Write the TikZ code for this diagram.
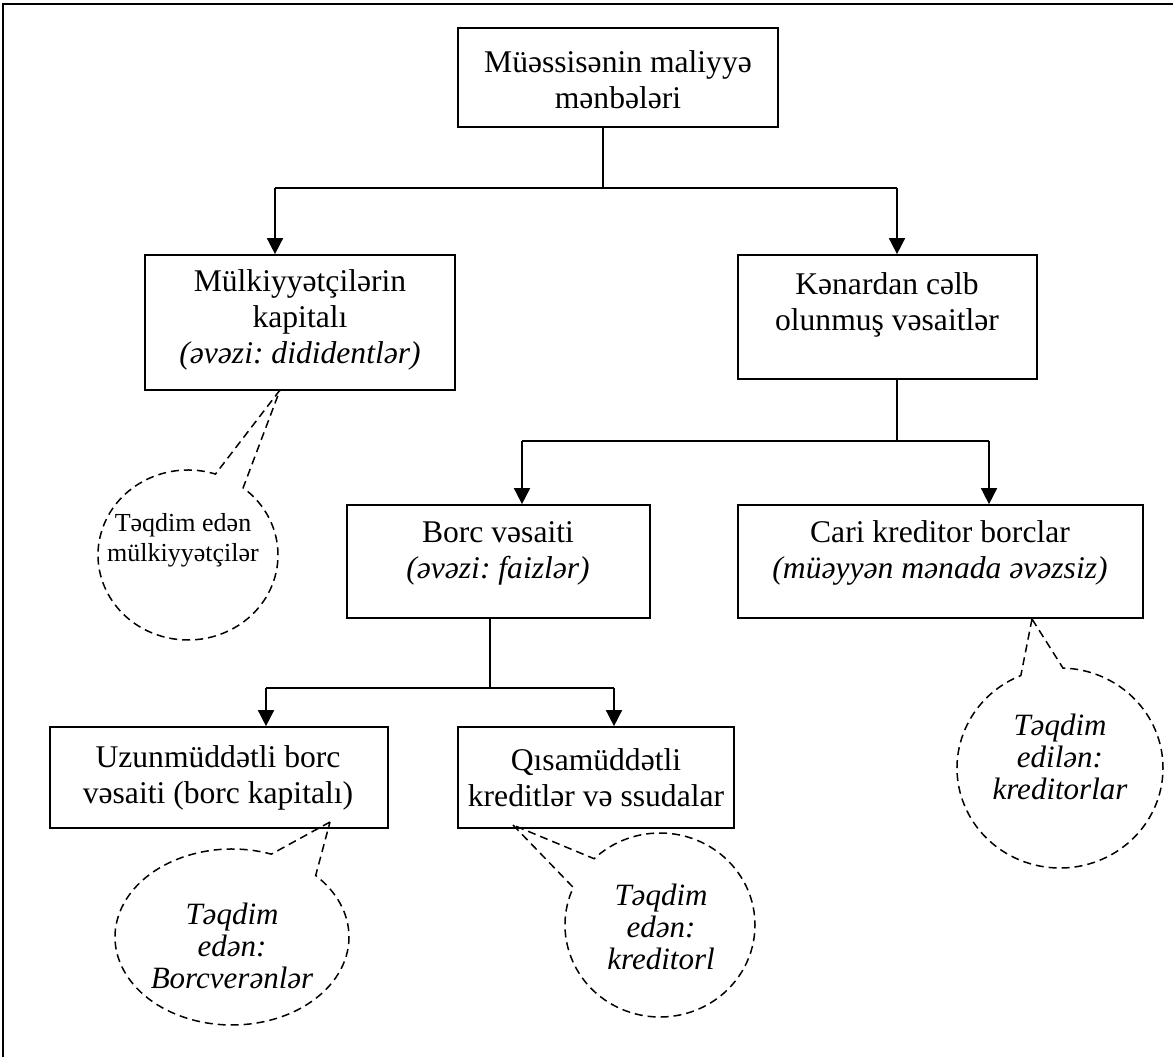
\documentclass[tikz,border=0pt]{standalone}
\usepackage{fontspec}
\setmainfont{Liberation Serif}
\frenchspacing
\usetikzlibrary{shapes.callouts,arrows.meta}

\begin{document}
\begin{tikzpicture}[x=1pt,y=-1pt,
  box/.style={draw,line width=1.7pt,inner sep=0pt},
  txt/.style={align=center,inner sep=0pt,font=\fontsize{31.6}{36}\selectfont},
  conn/.style={line width=1.6pt},
  arr/.style={conn,-{Triangle[width=16pt,length=16pt]}},
  bubble/.style={ellipse callout,draw,dash pattern=on 8pt off 5pt,line width=1.5pt,inner sep=0pt},
  btxt/.style={align=center,inner sep=0pt,font=\fontsize{31}{32}\selectfont\itshape},
]
\useasboundingbox (0,0) rectangle (1173,1057);
\clip (0,0) rectangle (1173,1057);

% page frame (only its left and top sides fall inside the picture)
\draw[line width=2pt] (3,1100) -- (3,4) -- (1200,4);

% boxes
\node[box,minimum width=320pt,minimum height=99pt]  (top)   at (618,77.5)   {};
\node[box,minimum width=310pt,minimum height=135pt] (mulk)  at (300,322.5)  {};
\node[box,minimum width=299pt,minimum height=124pt] (kenar) at (887.5,317)  {};
\node[box,minimum width=303pt,minimum height=113pt] (borc)  at (498.5,561.5){};
\node[box,minimum width=405pt,minimum height=113pt] (cari)  at (940.5,561.5){};
\node[box,minimum width=338pt,minimum height=101pt] (uzun)  at (219,777.5)  {};
\node[box,minimum width=276pt,minimum height=101pt] (qisa)  at (596,777.5)  {};

% box texts
\node[txt] (top-t)   at (618,80)  {Müəssisənin maliyyə\\mənbələri};
\node[txt] (mulk-t)  at (300,320) {Mülkiyyətçilərin\\kapitalı\\\textit{(əvəzi: dididentlər)}};
\node[txt] (kenar-t) at (887,305) {Kənardan cəlb\\olunmuş vəsaitlər};
\node[txt] (borc-t)  at (498,553) {Borc vəsaiti\\\textit{(əvəzi: faizlər)}};
\node[txt] (cari-t)  at (940,553) {Cari kreditor borclar\\\textit{(müəyyən mənada əvəzsiz)}};
\node[txt] (uzun-t)  at (218,778) {Uzunmüddətli borc\\vəsaiti (borc kapitalı)};
\node[txt] (qisa-t)  at (596,778) {Qısamüddətli\\kreditlər və ssudalar};

% junctions of the tree
\coordinate (j1) at (603,188);
\coordinate (aL) at (275,188);
\coordinate (aR) at (897,188);
\coordinate (j2) at (897,441);
\coordinate (bL) at (522,441);
\coordinate (bR) at (989,441);
\coordinate (j3) at (490,688);
\coordinate (cL) at (266,688);
\coordinate (cR) at (614,688);

\draw[conn] (top.south -| j1) -- (j1);
\draw[conn] (aL) -- (aR);
\draw[arr] (aL) -- (aL |- mulk.north);
\draw[arr] (aR) -- (aR |- kenar.north);

\draw[conn] (kenar.south -| j2) -- (j2);
\draw[conn] (bL) -- (bR);
\draw[arr] (bL) -- (bL |- borc.north);
\draw[arr] (bR) -- (bR |- cari.north);

\draw[conn] (borc.south -| j3) -- (j3);
\draw[conn] (cL) -- (cR);
\draw[arr] (cL) -- (cL |- uzun.north);
\draw[arr] (cR) -- (cR |- qisa.north);

% callout tips
\coordinate (t1) at (280,390);
\coordinate (t2) at (1032,619);
\coordinate (t3) at (330,822);
\coordinate (t4) at (513,825);

% callouts
\node[bubble,minimum width=180pt,minimum height=170pt,callout pointer arc=20,
      callout absolute pointer={(t1)}] (b1) at (188,555) {};
\node[bubble,minimum width=206pt,minimum height=200pt,callout pointer arc=24,
      callout absolute pointer={(t2)}] (b2) at (1060,768) {};
\node[bubble,minimum width=234pt,minimum height=176pt,callout pointer arc=26,
      callout absolute pointer={(t3)}] (b3) at (232,937) {};
\node[bubble,minimum width=190pt,minimum height=184pt,callout pointer arc=22,
      callout absolute pointer={(t4)}] (b4) at (660,925) {};

\node[align=center,inner sep=0pt,font=\fontsize{26}{30}\selectfont] (b1-t) at (183,540)
  {Təqdim edən\\mülkiyyətçilər};
\node[btxt] (b2-t) at (1060,757) {Təqdim\\edilən:\\kreditorlar};
\node[btxt] (b3-t) at (232,946) {Təqdim\\edən:\\Borcverənlər};
\node[btxt] (b4-t) at (661,927) {Təqdim\\edən:\\kreditorl};
\end{tikzpicture}
\end{document}
